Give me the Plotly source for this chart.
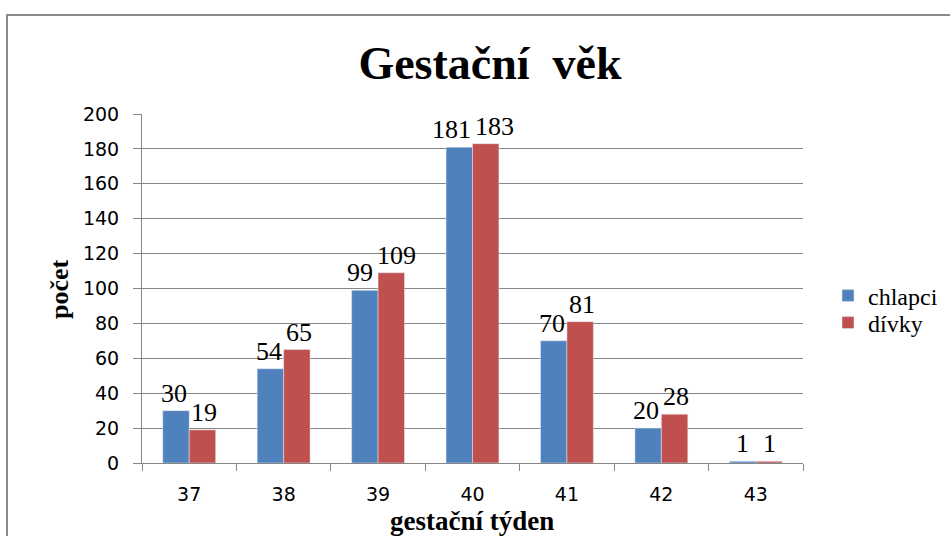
import plotly.graph_objects as go

weeks = ["37", "38", "39", "40", "41", "42", "43"]
chlapci = [30, 54, 99, 181, 70, 20, 1]
divky = [19, 65, 109, 183, 81, 28, 1]
y_ticks = [0, 20, 40, 60, 80, 100, 120, 140, 160, 180, 200]

W, H = 950, 536
L, R, T, B = 142, 147, 114, 73
pw, ph = W - L - R, H - T - B

serif = "Liberation Serif, Times New Roman, serif"
tick_font = dict(family="DejaVu Sans, sans-serif", size=19, color="#000")
label_font = dict(family=serif, size=26, color="#000")
BLUE, RED = "#4F81BD", "#C0504D"

fig = go.Figure()
fig.add_trace(go.Bar(name="chlapci", x=weeks, y=chlapci, marker_color=BLUE, legend="legend"))
fig.add_trace(go.Bar(name="dívky", x=weeks, y=divky, marker_color=RED, legend="legend2"))

# data labels above bars (category index on the x axis, nudged apart where they would collide)
half_bar = 13.5
for i, (b, r) in enumerate(zip(chlapci, divky)):
    wb, wr = len(str(b)) * 13, len(str(r)) * 13
    extra = max(0.0, (wb + wr) / 2 - 2 * half_bar + 4) / 2
    for val, sx in ((b, -half_bar - extra), (r, half_bar + extra)):
        fig.add_annotation(x=i, y=val, xref="x", yref="y", text=str(val),
                           showarrow=False, xshift=sx, yshift=1,
                           xanchor="center", yanchor="bottom", font=label_font)

leg_common = dict(xanchor="left", yanchor="middle", bgcolor="rgba(0,0,0,0)",
                  font=dict(family=serif, size=24, color="#000"))
fig.update_layout(
    width=W, height=H,
    margin=dict(l=L, r=R, t=T, b=B, autoexpand=False),
    paper_bgcolor="white", plot_bgcolor="white",
    barmode="group", bargap=0.44, bargroupgap=0,
    showlegend=True,
    title=dict(text="<b>Gestační  věk</b>", x=490 / W, xanchor="center",
               y=1 - 63 / H, yanchor="middle", yref="container",
               font=dict(family=serif, size=46, color="#000")),
    legend=dict(x=(828 - L) / pw, y=(H - B - 296) / ph, **leg_common),
    legend2=dict(x=(828 - L) / pw, y=(H - B - 323) / ph, **leg_common),
)
fig.update_xaxes(
    type="category", range=[-0.5, len(weeks) - 0.5],
    showline=True, linecolor="#868686", linewidth=1,
    ticks="outside", tickson="boundaries", ticklen=7, tickcolor="#868686",
    tickfont=tick_font, ticklabelstandoff=14, showgrid=False,
)
fig.update_yaxes(
    range=[0, 200], tickvals=y_ticks, showline=True, linecolor="#868686", linewidth=1,
    ticks="outside", ticklen=8, tickcolor="#868686", tickfont=tick_font,
    ticklabelstandoff=10,
    showgrid=True, gridcolor="#868686", gridwidth=1, zeroline=False,
)

fig.add_annotation(text="<b>počet</b>", xref="paper", yref="paper",
                   x=(59 - L) / pw, y=(H - B - 289) / ph, textangle=-90,
                   showarrow=False, font=dict(family=serif, size=26, color="#000"),
                   xanchor="center", yanchor="middle")
fig.add_annotation(text="<b>gestační týden</b>", xref="paper", yref="paper",
                   x=(472 - L) / pw, y=-(521 - (H - B)) / ph,
                   showarrow=False, font=dict(family=serif, size=27, color="#000"),
                   xanchor="center", yanchor="middle")

fig.add_shape(type="rect", xref="paper", yref="paper",
              x0=(7 - L) / pw, x1=(970 - L) / pw,
              y0=-(580 - (H - B)) / ph, y1=1 + (T - 15) / ph,
              line=dict(color="#8a8a8a", width=2), fillcolor="rgba(0,0,0,0)", layer="below")

fig.write_html("out.html", config={"displayModeBar": False},
               post_script="document.body.style.margin='0px';")
